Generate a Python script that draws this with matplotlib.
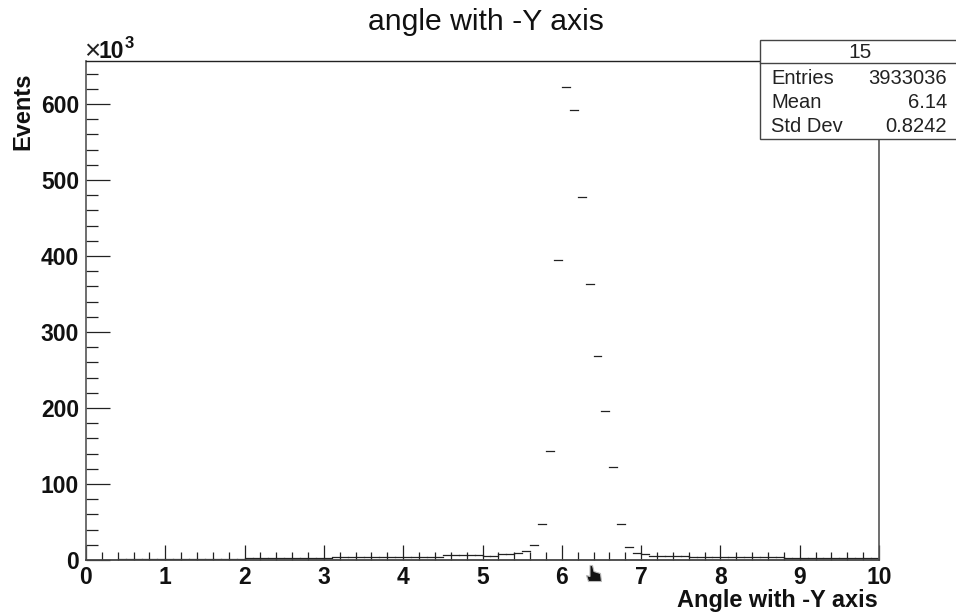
import numpy as np
import matplotlib
matplotlib.use("Agg")
import matplotlib.pyplot as plt
from matplotlib.patches import Rectangle, Polygon
from matplotlib.lines import Line2D

plt.rcParams['font.family'] = ['Liberation Sans', 'DejaVu Sans']

W, H = 956, 614

title = "angle with -Y axis"
xlabel = "Angle with -Y axis"
ylabel = "Events"
x_ticks = [0, 1, 2, 3, 4, 5, 6, 7, 8, 9, 10]
y_ticks = [0, 100, 200, 300, 400, 500, 600]
stats_title = "15"
stats_names = ["Entries", "Mean", "Std Dev"]
stats_values = ["3933036", "6.14", "0.8242"]

bin_lefts = [
    0.0, 0.1, 0.2, 0.3, 0.4, 0.5, 0.6, 0.7, 0.8, 0.9,
    1.0, 1.1, 1.2, 1.3, 1.4, 1.5, 1.6, 1.7, 1.8, 1.9,
    2.0, 2.1, 2.2, 2.3, 2.4, 2.5, 2.6, 2.7, 2.8, 2.9,
    3.0, 3.1, 3.2, 3.3, 3.4, 3.5, 3.6, 3.7, 3.8, 3.9,
    4.0, 4.1, 4.2, 4.3, 4.4, 4.5, 4.6, 4.7, 4.8, 4.9,
    5.0, 5.1, 5.2, 5.3, 5.4, 5.5, 5.6, 5.7, 5.8, 5.9,
    6.0, 6.1, 6.2, 6.3, 6.4, 6.5, 6.6, 6.7, 6.8, 6.9,
    7.0, 7.1, 7.2, 7.3, 7.4, 7.5, 7.6, 7.7, 7.8, 7.9,
    8.0, 8.1, 8.2, 8.3, 8.4, 8.5, 8.6, 8.7, 8.8, 8.9,
    9.0, 9.1, 9.2, 9.3, 9.4, 9.5, 9.6, 9.7, 9.8, 9.9,
]
counts_k = [
    0, 0, 0, 0, 1.4, 1.4, 1.4, 1.4, 1.4, 1.4,
    1.4, 1.4, 1.4, 1.4, 1.6, 1.8, 1.8, 1.8, 1.8, 1.8,
    2.0, 2.0, 2.0, 2.0, 2.0, 2.0, 2.0, 2.0, 2.0, 2.0,
    2.2, 4.0, 3.9, 4.0, 3.8, 3.8, 3.8, 3.8, 3.8, 3.8,
    3.8, 3.8, 3.8, 3.8, 4.5, 6.0, 6.0, 6.0, 6.0, 6.0,
    5.7, 5.8, 7.5, 8.0, 9.6, 12.0, 20, 47, 143, 395,
    623, 592, 478, 363, 269, 196, 122, 48, 17, 8.7,
    8.0, 5.7, 5.0, 5.0, 5.0, 5.0, 3.5, 3.5, 3.5, 3.5,
    3.5, 3.5, 3.5, 3.5, 3.5, 3.5, 3.5, 3.5, 2.0, 2.0,
    2.0, 2.0, 2.0, 2.0, 2.0, 2.0, 2.0, 2.0, 2.0, 2.0,
]
bin_width = 0.1

fig = plt.figure(figsize=(W / 100, H / 100), dpi=100, facecolor='white')
L, R, T, B = 86, 879, 61, 560
ax = fig.add_axes([L / W, 1 - B / H, (R - L) / W, (B - T) / H])
ax.set_xlim(0, 10)
ax.set_ylim(0, (B - T) / 0.76)

lefts = np.array(bin_lefts)
vals = np.array(counts_k)
keep = vals > 0
ax.hlines(vals[keep], lefts[keep], lefts[keep] + bin_width, color='#222222', lw=0.9,
          capstyle='projecting')

ax.set_xticks(x_ticks)
ax.set_yticks(y_ticks)
ax.set_xticks(np.arange(0, 10.01, 0.2), minor=True)
ax.set_yticks(np.arange(0, 650, 20), minor=True)
ax.tick_params(axis='x', which='major', direction='in', length=11, width=0.9,
               color='#222222', pad=4.5, labelsize=16.5)
ax.tick_params(axis='x', which='minor', direction='in', length=6, width=0.9, color='#222222')
ax.tick_params(axis='y', which='major', direction='in', length=17.3, width=0.9,
               color='#222222', pad=5, labelsize=16.5)
ax.tick_params(axis='y', which='minor', direction='in', length=8.6, width=0.9, color='#222222')
for lab in ax.get_xticklabels() + ax.get_yticklabels():
    lab.set_fontweight('bold')
    lab.set_color('#111111')

for name, col, lw in [('top', '#222222', 1.0), ('right', '#555555', 1.2),
                      ('left', '#555555', 1.2), ('bottom', '#444444', 1.3)]:
    ax.spines[name].set_color(col)
    ax.spines[name].set_linewidth(lw)


def fx(px):
    return px / W


def fy(py):
    return 1 - py / H


fig.text(fx(486), fy(22), title, ha='center', va='center', fontsize=21.7, color='#111111')
fig.text(fx(878), fy(600), xlabel, ha='right', va='center', fontsize=16.9,
         fontweight='bold', color='#111111')
fig.text(fx(23), fy(72), ylabel, ha='center', va='top', rotation=90, fontsize=17,
         fontweight='bold', color='#111111')
fig.text(fx(84.5), fy(59), '\u00d7', ha='left', va='baseline', fontsize=20, color='#222222')
fig.text(fx(99), fy(58), '10', ha='left', va='baseline', fontsize=16.5,
         fontweight='bold', color='#111111')
fig.text(fx(124.5), fy(48), '3', ha='left', va='baseline', fontsize=12,
         fontweight='bold', color='#111111')

# statistics box
fig.add_artist(Rectangle((fx(760), fy(139)), fx(956 - 760 + 2), fy(40) - fy(139),
                         transform=fig.transFigure, facecolor='white',
                         edgecolor='#444444', lw=1.0, zorder=5))
fig.add_artist(Line2D([fx(760), fx(956)], [fy(62.5), fy(62.5)], color='#444444', lw=1.0, zorder=6))
fig.text(fx(860), fy(52), stats_title, ha='center', va='center', fontsize=15,
         color='#222222', zorder=7)
for py, n, v in zip([78, 103, 127], stats_names, stats_values):
    fig.text(fx(771), fy(py), n, ha='left', va='center', fontsize=14.5, color='#222222', zorder=7)
    fig.text(fx(947), fy(py), v, ha='right', va='center', fontsize=14.5, color='#222222', zorder=7)

# mouse pointer captured in the screenshot (a decoration, not data)
pointer_px = [(590, 565.5), (592.5, 565.5), (594, 571.5), (600.5, 573.5), (601.5, 581.5),
              (588.5, 581.5), (586.5, 575.5), (590, 576.5)]
fig.add_artist(Polygon([(fx(x), fy(y)) for x, y in pointer_px], closed=True,
                       transform=fig.transFigure, facecolor='#111111',
                       edgecolor='#bbbbbb', lw=0.8))

fig.savefig('out.png', dpi=100, facecolor='white')
